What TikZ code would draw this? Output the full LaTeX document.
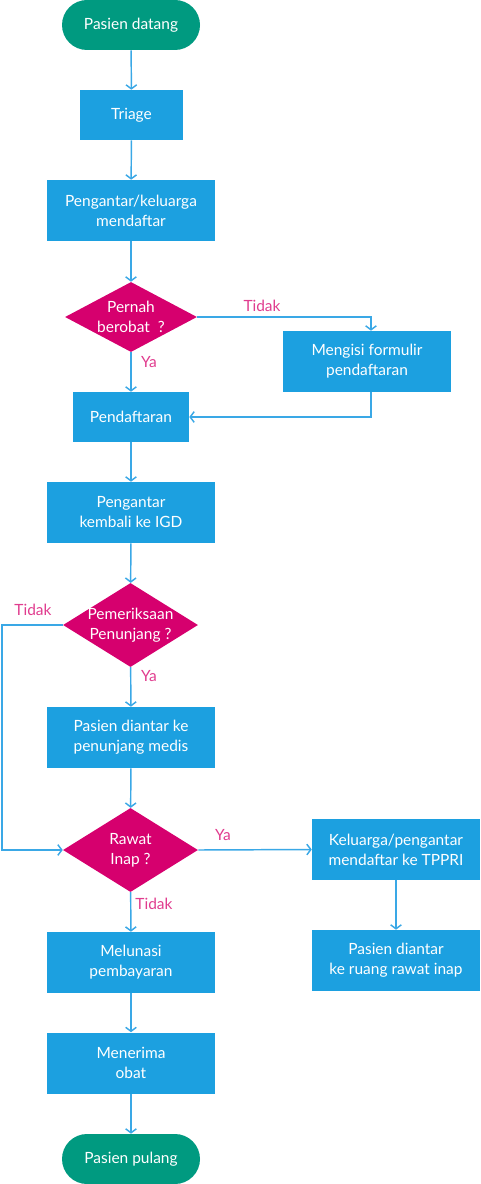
\documentclass[tikz,border=0pt]{standalone}
\usepackage{fontspec}
\setmainfont{Lato}
\usetikzlibrary{shapes.geometric,arrows.meta}
\definecolor{boxblue}{HTML}{1CA0E0}
\definecolor{linkblue}{HTML}{3AA8E6}
\definecolor{termgreen}{HTML}{009A80}
\definecolor{decmag}{HTML}{D6006E}
\definecolor{lblpink}{HTML}{E03C8E}
\begin{document}
\begin{tikzpicture}[x=0.75pt,y=-0.75pt,
  txt/.style={font=\fontsize{11.6}{15}\selectfont, text=white, align=center},
  term/.style={txt, fill=termgreen, rounded corners=18.75pt, minimum width=103.5pt, minimum height=37.5pt, inner sep=0pt},
  proc/.style={txt, fill=boxblue, minimum width=126pt, minimum height=45.75pt, inner sep=0pt},
  dec/.style={shape=diamond, fill=decmag, inner sep=0pt},
  lbl/.style={font=\fontsize{11.6}{13}\selectfont, text=lblpink},
  flow/.style={draw=linkblue, line width=1.1pt, -{Straight Barb[length=3pt,width=8pt,line width=1.1pt]}}
]
\useasboundingbox (0,0) rectangle (481,1184);
% nodes
\node[term] (start) at (131,25) {Pasien datang};
\node[proc, minimum width=77.25pt, minimum height=37.5pt] (triage) at (131.5,115) {Triage};
\node[proc] (daftar1) at (131,210.5) {Pengantar/keluarga\\mendaftar};
\node[dec, minimum width=99pt, minimum height=52.5pt, label={[txt]center:Pernah\\berobat~ ?}] (d1) at (131,317) {};
\node[proc] (mengisi) at (367,361.5) {Mengisi formulir\\pendaftaran};
\node[proc, minimum width=87pt, minimum height=37.5pt] (pend) at (131,417) {Pendaftaran};
\node[proc] (kembali) at (131,512.5) {Pengantar\\kembali ke IGD};
\node[dec, minimum width=101.25pt, minimum height=63pt, label={[txt]center:Pemeriksaan\\Penunjang ?}] (d2) at (130.5,625) {};
\node[proc] (penunjang) at (131,737.5) {Pasien diantar ke\\penunjang medis};
\node[dec, minimum width=101.25pt, minimum height=63pt, label={[txt]center:Rawat\\Inap ?}] (d3) at (130.5,850) {};
\node[proc] (tppri) at (396,849.5) {Keluarga/pengantar\\mendaftar ke TPPRI};
\node[proc] (ruang) at (396,960.5) {Pasien diantar\\ke ruang rawat inap};
\node[proc] (lunas) at (131,962.5) {Melunasi\\pembayaran};
\node[proc] (obat) at (131,1063) {Menerima\\obat};
\node[term] (pulang) at (131,1159) {Pasien pulang};
\coordinate (left) at (2,625);
% connectors
\draw[flow] (start) -- (triage);
\draw[flow] (triage) -- (daftar1);
\draw[flow] (daftar1) -- (d1);
\draw[flow] (d1.east) -| ([xshift=3pt]mengisi.north);
\draw[flow] ([xshift=3pt]mengisi.south) |- (pend.east);
\draw[flow] (d1) -- (pend);
\draw[flow] (pend) -- (kembali);
\draw[flow] (kembali) -- (d2);
\draw[flow] (d2) -- (penunjang);
\draw[flow] (d2.west) -- (left) |- (d3.west);
\draw[flow] (penunjang) -- (d3);
\draw[flow] (d3.east) -- (tppri.west);
\draw[flow] (tppri) -- (ruang);
\draw[flow] (d3) -- (lunas);
\draw[flow] (lunas) -- (obat);
\draw[flow] (obat) -- (pulang);
% labels
\node[lbl] at (262,306) {Tidak};
\node[lbl] at (149,362) {Ya};
\node[lbl] at (33,610) {Tidak};
\node[lbl] at (149,676) {Ya};
\node[lbl] at (223,835) {Ya};
\node[lbl] at (154,904) {Tidak};
\end{tikzpicture}
\end{document}
